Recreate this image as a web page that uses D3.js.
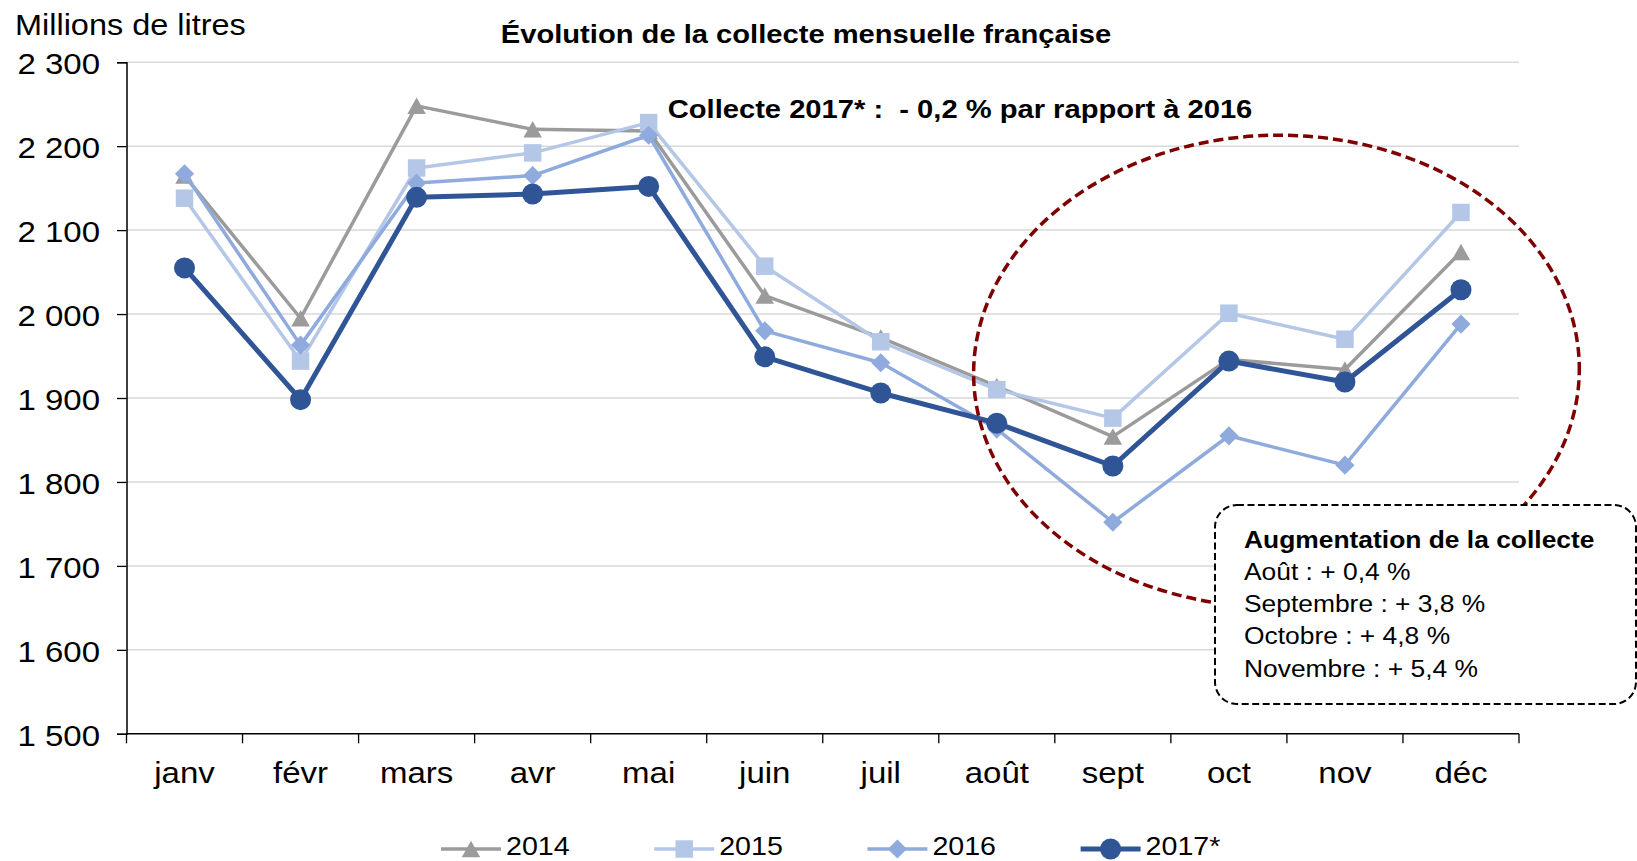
<!DOCTYPE html>
<html lang="fr">
<head>
<meta charset="utf-8">
<title>Évolution de la collecte mensuelle française</title>
<script src="https://cdn.jsdelivr.net/npm/d3@7"></script>
<style>
  html, body { margin: 0; padding: 0; background: #ffffff; }
  svg { display: block; }
  text { font-family: "Liberation Sans", Arial, Helvetica, sans-serif; fill: #000; white-space: pre; }
</style>
</head>
<body>
<svg id="chart" width="1637" height="861"></svg>
<script>
// ---- Data: monthly French milk collection (millions of litres) ----
const months = ["janv", "févr", "mars", "avr", "mai", "juin", "juil", "août", "sept", "oct", "nov", "déc"];
const collecte2014 = [2165, 1995, 2248, 2220, 2218, 2022, 1972, 1914, 1854, 1946, 1934, 2074];
const collecte2015 = [2138, 1944, 2174, 2192, 2228, 2057, 1967, 1910, 1876, 2001, 1970, 2121];
const collecte2016 = [2167, 1963, 2156, 2165, 2213, 1980, 1942, 1863, 1752, 1855, 1820, 1988];
const collecte2017 = [2055, 1898, 2139, 2143, 2152, 1949, 1906, 1870, 1819, 1944, 1919, 2029];
const seriesNames = ["2014", "2015", "2016", "2017*"];
const yTicks = [1500, 1600, 1700, 1800, 1900, 2000, 2100, 2200, 2300];

const titleText = "Évolution de la collecte mensuelle française";
const subtitleText = "Collecte 2017* :  - 0,2 % par rapport à 2016";
const yAxisTitle = "Millions de litres";
const boxTitle = "Augmentation de la collecte";
const boxLines = ["Août : + 0,4 %", "Septembre : + 3,8 %", "Octobre : + 4,8 %", "Novembre : + 5,4 %"];

// ---- Styling ----
const SX = 1.1;                 // horizontal text stretch
const FONT = '"Liberation Sans", Arial, Helvetica, sans-serif';
const styles = [
  { color: "#9B9B9B", width: 3.5, marker: "triangle" },
  { color: "#B4C7E7", width: 3.5, marker: "square" },
  { color: "#8FAADC", width: 3.5, marker: "diamond" },
  { color: "#2F5597", width: 5,   marker: "circle" }
];
const series = [collecte2014, collecte2015, collecte2016, collecte2017].map((values, i) => ({
  name: seriesNames[i], values, ...styles[i]
}));

const svg = d3.select("#chart");

const plot = { left: 126.5, right: 1519, top: 62.2, bottom: 733.8 };
const x = d3.scaleBand().domain(months).range([plot.left, plot.right]).padding(0);
const y = d3.scaleLinear().domain([1500, 2300]).range([plot.bottom, plot.top]);
const cx = m => x(m) + x.bandwidth() / 2;

// Marker shapes centred on their bounding box
function markerPath(type) {
  switch (type) {
    case "triangle": { const w = 18.5, h = 16.5;
      return `M0,${-h / 2}L${w / 2},${h / 2}L${-w / 2},${h / 2}Z`; }
    case "square": { const s = 17.5;
      return `M${-s / 2},${-s / 2}h${s}v${s}h${-s}Z`; }
    case "diamond": { const r = 9.6;
      return `M0,${-r}L${r},0L0,${r}L${-r},0Z`; }
    default: { const r = 10.5;
      return `M${r},0A${r},${r} 0 1,1 ${-r},0A${r},${r} 0 1,1 ${r},0Z`; }
  }
}

// Text placed through a transform so it can be stretched horizontally
function placeText(sel, px, py) {
  return sel.attr("x", 0).attr("y", 0).attr("transform", `translate(${px},${py}) scale(${SX},1)`);
}

const fmt = v => d3.format(",")(v).replace(/,/g, " ");

// ---- Gridlines ----
svg.append("g").selectAll("line")
  .data(yTicks.filter(t => t > 1500))
  .join("line")
  .attr("x1", plot.left).attr("x2", plot.right)
  .attr("y1", d => y(d)).attr("y2", d => y(d))
  .attr("stroke", "#D9D9D9").attr("stroke-width", 1.5);

// ---- Y axis ----
const yAxis = svg.append("g")
  .attr("transform", `translate(${plot.left},0)`)
  .call(d3.axisLeft(y).tickValues(yTicks).tickSize(9.5).tickPadding(0).tickFormat(fmt));
yAxis.select(".domain").attr("stroke", "#000").attr("stroke-width", 1.5);
yAxis.selectAll(".tick line").attr("stroke", "#000").attr("stroke-width", 1.3);
yAxis.selectAll(".tick text")
  .attr("font-family", FONT).attr("font-size", 30).attr("fill", "#000")
  .attr("text-anchor", "end").attr("dy", null)
  .attr("dominant-baseline", "central")
  .each(function () { placeText(d3.select(this), -26.5, 1); });

// ---- X axis ----
const xAxis = svg.append("g")
  .attr("transform", `translate(0,${plot.bottom})`)
  .call(d3.axisBottom(x).tickSize(0).tickPadding(0));
xAxis.select(".domain").remove();
xAxis.selectAll(".tick text")
  .attr("font-family", FONT).attr("font-size", 30).attr("fill", "#000")
  .attr("text-anchor", "middle").attr("dy", null)
  .each(function () { placeText(d3.select(this), 0, 49.5); });
svg.append("line")
  .attr("x1", plot.left).attr("x2", plot.right)
  .attr("y1", plot.bottom).attr("y2", plot.bottom)
  .attr("stroke", "#000").attr("stroke-width", 1.5);
const boundaries = months.map(m => x(m)).concat([x.range()[1]]);
svg.append("g").selectAll("line")
  .data(boundaries)
  .join("line")
  .attr("x1", d => d).attr("x2", d => d)
  .attr("y1", plot.bottom).attr("y2", plot.bottom + 9.5)
  .attr("stroke", "#000").attr("stroke-width", 1.3);

// ---- Series ----
const line = d3.line().x((d, i) => cx(months[i])).y(d => y(d));
series.forEach(s => {
  const g = svg.append("g").attr("class", "series");
  g.append("path")
    .attr("d", line(s.values))
    .attr("fill", "none")
    .attr("stroke", s.color)
    .attr("stroke-width", s.width)
    .attr("stroke-linejoin", "round");
  g.selectAll("path.marker")
    .data(s.values)
    .join("path")
    .attr("class", "marker")
    .attr("d", markerPath(s.marker))
    .attr("transform", (d, i) => `translate(${cx(months[i])},${y(d)})`)
    .attr("fill", s.color);
});

// ---- Highlight ellipse around the end of the year ----
const ellipseCentre = { pos: 9.41, value: 1932 };   // position in months, value in Ml
const ellipseSpan = { months: 2.61, value: 281 };
const ex = plot.left + (ellipseCentre.pos + 0.5) * x.bandwidth();
const ey = y(ellipseCentre.value);
svg.append("ellipse")
  .attr("cx", ex).attr("cy", ey)
  .attr("rx", ellipseSpan.months * x.bandwidth())
  .attr("ry", y(1500) - y(1500 + ellipseSpan.value))
  .attr("transform", `rotate(-1.1 ${ex} ${ey})`)
  .attr("fill", "none")
  .attr("stroke", "#7F0000")
  .attr("stroke-width", 3.5)
  .attr("stroke-dasharray", "10,5");

// ---- Annotation box ----
const box = { x: 1215, y: 505, w: 421, h: 199 };
svg.append("rect")
  .attr("x", box.x).attr("y", box.y)
  .attr("width", box.w).attr("height", box.h)
  .attr("rx", 22).attr("ry", 22)
  .attr("fill", "#fff")
  .attr("stroke", "#000")
  .attr("stroke-width", 2)
  .attr("stroke-dasharray", "7,3.5");
placeText(svg.append("text")
  .attr("font-size", 24).attr("font-weight", "bold")
  .text(boxTitle), box.x + 29, box.y + 43);
boxLines.forEach((t, i) => {
  placeText(svg.append("text").attr("font-size", 24).text(t), box.x + 29, box.y + 75 + i * 32.2);
});

// ---- Titles ----
placeText(svg.append("text")
  .attr("font-size", 29.5)
  .text(yAxisTitle), 15, 35);
placeText(svg.append("text")
  .attr("font-size", 26.5).attr("font-weight", "bold").attr("text-anchor", "middle")
  .text(titleText), 806, 43);
placeText(svg.append("text")
  .attr("font-size", 26.5).attr("font-weight", "bold").attr("text-anchor", "middle")
  .text(subtitleText), 960, 118);

// ---- Legend ----
const legend = svg.append("g").attr("class", "legend");
const legendX0 = 441, legendStep = 213.2, legendY = 849;
series.forEach((s, i) => {
  const lx = legendX0 + i * legendStep;
  const g = legend.append("g");
  g.append("line")
    .attr("x1", lx).attr("x2", lx + 60)
    .attr("y1", legendY).attr("y2", legendY)
    .attr("stroke", s.color).attr("stroke-width", s.width);
  g.append("path")
    .attr("d", markerPath(s.marker))
    .attr("transform", `translate(${lx + 30},${legendY})`)
    .attr("fill", s.color);
  placeText(g.append("text").attr("font-size", 26).text(s.name), lx + 65, 855);
});
</script>
</body>
</html>
